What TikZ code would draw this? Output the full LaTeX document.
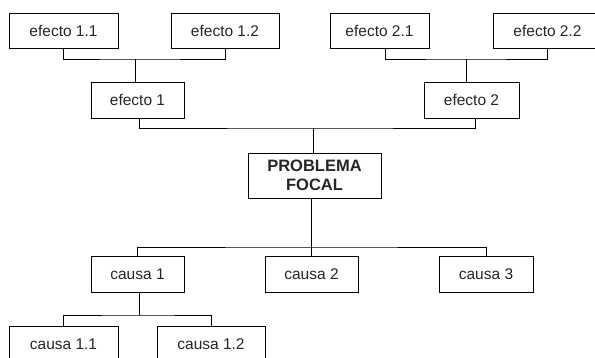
\documentclass[tikz,border=0pt]{standalone}
\usepackage{fontspec}
\setmainfont{Liberation Sans}
\begin{document}
\begin{tikzpicture}[x=1pt,y=-1pt,
  box/.style={draw=black, line width=0.9pt, inner sep=0pt, font=\fontsize{15.5}{18}\selectfont, text=black!85},
  link/.style={draw=black, line width=0.9pt}]
\useasboundingbox (0,0) rectangle (595,357);
\clip (0,0) rectangle (595,357);
% effects
\node[box, minimum width=109pt, minimum height=35pt] (e11) at (63.5,30.5) {efecto 1.1};
\node[box, minimum width=108pt, minimum height=35pt] (e12) at (225,30.5) {efecto 1.2};
\node[box, minimum width=99pt, minimum height=35pt] (e21) at (379.5,30.5) {efecto 2.1};
\node[box, minimum width=109pt, minimum height=35pt] (e22) at (547.5,30.5) {efecto 2.2};
\node[box, minimum width=93pt, minimum height=36pt] (e1) at (137.5,100) {efecto 1};
\node[box, minimum width=95pt, minimum height=36pt] (e2) at (471.5,100) {efecto 2};
% focal problem
\node[box, minimum width=133pt, minimum height=45pt, align=center,
      font=\fontsize{16.5}{19}\selectfont\bfseries] (pf) at (314.5,175.5) {PROBLEMA\\FOCAL};
% causes
\node[box, minimum width=93pt, minimum height=36pt] (c1) at (137.5,274) {causa 1};
\node[box, minimum width=93pt, minimum height=36pt] (c2) at (311.5,274) {causa 2};
\node[box, minimum width=94pt, minimum height=36pt] (c3) at (486,274) {causa 3};
\node[box, minimum width=109pt, minimum height=36pt] (c11) at (63.5,344) {causa 1.1};
\node[box, minimum width=108pt, minimum height=36pt] (c12) at (211,344) {causa 1.2};
% junctions
\coordinate (j1) at (135,59);
\coordinate (j2) at (466,59);
\coordinate (j3) at (313,128);
\coordinate (j4) at (311,247);
\coordinate (j5) at (139,315);
% connectors
\draw[link] (e11.south) |- (j1) -| (e12.south);
\draw[link] (j1) -- (j1 |- e1.north);
\draw[link] ([xshift=5.5pt]e21.south) |- (j2) -| (e22.south);
\draw[link] (j2) -- (j2 |- e2.north);
\draw[link] ([xshift=1.5pt]e1.south) |- (j3) -| ([xshift=3.5pt]e2.south);
\draw[link] (j3) -- (j3 |- pf.north);
\draw[link] (pf.south -| j4) -- (j4);
\draw[link] (c1.north) |- (j4) -| (c3.north);
\draw[link] (j4) -- (j4 |- c2.north);
\draw[link] (c1.south -| j5) -- (j5);
\draw[link] (c11.north) |- (j5) -| (c12.north);
\end{tikzpicture}
\end{document}
